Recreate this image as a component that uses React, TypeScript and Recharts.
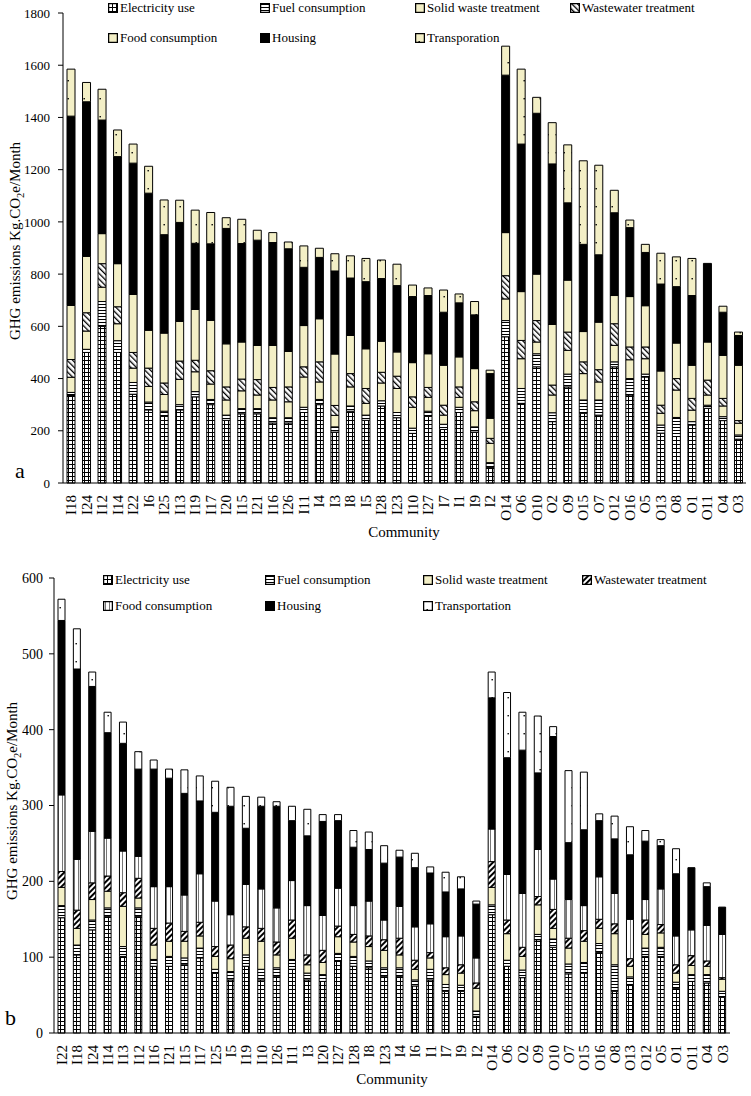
import { BarChart, Bar, XAxis, YAxis } from 'recharts';

const SERIF = "'Liberation Serif', 'Times New Roman', serif";

// ---- chart a ----
const categoriesA = ['I18', 'I24', 'I12', 'I14', 'I22', 'I6', 'I25', 'I13', 'I19', 'I17', 'I20', 'I15', 'I21', 'I16', 'I26', 'I11', 'I4', 'I3', 'I8', 'I5', 'I28', 'I23', 'I10', 'I27', 'I7', 'I1', 'I9', 'I2', 'O14', 'O6', 'O10', 'O2', 'O9', 'O15', 'O7', 'O12', 'O16', 'O5', 'O13', 'O8', 'O1', 'O11', 'O4', 'O3'];
const elecA = [335, 500, 600, 500, 340, 280, 255, 280, 330, 300, 240, 265, 265, 230, 230, 270, 300, 195, 275, 240, 295, 250, 190, 255, 205, 270, 195, 60, 560, 305, 445, 235, 368, 267, 260, 445, 337, 406, 191, 178, 222, 286, 239, 168];
const fuelA = [12, 12, 95, 45, 45, 30, 20, 20, 20, 20, 20, 20, 20, 20, 20, 20, 20, 20, 20, 20, 20, 20, 20, 20, 20, 20, 20, 18, 62, 57, 50, 34, 49, 51, 58, 19, 63, 11, 31, 73, 13, 12, 15, 16];
const solidA = [58, 70, 55, 65, 55, 60, 64, 97, 76, 59, 58, 68, 52, 68, 61, 116, 67, 44, 73, 45, 68, 92, 80, 53, 35, 38, 62, 74, 83, 114, 45, 68, 91, 101, 69, 63, 72, 59, 45, 105, 44, 39, 41, 45];
const wasteA = [68, 70, 90, 65, 60, 70, 44, 70, 44, 51, 50, 45, 59, 48, 57, 39, 77, 38, 51, 57, 41, 47, 40, 38, 38, 40, 34, 19, 89, 70, 82, 38, 70, 45, 47, 83, 49, 45, 31, 44, 45, 57, 29, 10];
const foodA = [207, 216, 115, 165, 222, 145, 191, 152, 195, 193, 165, 142, 131, 161, 136, 158, 165, 197, 146, 152, 119, 93, 131, 129, 153, 115, 127, 77, 165, 187, 178, 232, 199, 116, 182, 108, 193, 158, 131, 136, 127, 146, 165, 212];
const housingA = [725, 592, 435, 410, 503, 525, 377, 379, 253, 293, 442, 377, 403, 394, 393, 223, 235, 318, 220, 257, 240, 254, 253, 223, 203, 207, 206, 171, 603, 565, 616, 615, 296, 334, 258, 317, 264, 204, 333, 216, 267, 301, 165, 114];
const transA = [180, 74, 118, 102, 73, 103, 133, 85, 127, 120, 41, 93, 38, 38, 26, 82, 35, 66, 85, 89, 71, 82, 44, 29, 85, 34, 51, 13, 111, 287, 61, 158, 222, 320, 343, 86, 29, 31, 118, 114, 142, 0, 23, 13];
const ticksA = [0, 200, 400, 600, 800, 1000, 1200, 1400, 1600, 1800];

// ---- chart b ----
const categoriesB = ['I22', 'I18', 'I24', 'I14', 'I13', 'I12', 'I16', 'I21', 'I15', 'I17', 'I25', 'I5', 'I19', 'I10', 'I26', 'I11', 'I3', 'I20', 'I27', 'I28', 'I8', 'I23', 'I4', 'I6', 'I1', 'I7', 'I9', 'I2', 'O14', 'O6', 'O2', 'O9', 'O10', 'O7', 'O15', 'O16', 'O8', 'O13', 'O12', 'O5', 'O1', 'O11', 'O4', 'O3'];
const elecB = [152, 103, 136, 154, 101, 154, 88, 88, 90, 99, 79, 70, 88, 70, 75, 84, 70, 68, 95, 88, 86, 75, 75, 62, 70, 55, 55, 22, 156, 88, 73, 123, 113, 78, 79, 106, 55, 64, 101, 101, 59, 68, 66, 47];
const fuelB = [16, 13, 13, 11, 13, 11, 9, 13, 9, 13, 5, 11, 15, 14, 11, 13, 9, 9, 10, 13, 9, 11, 11, 8, 14, 9, 8, 7, 13, 8, 10, 7, 11, 13, 14, 12, 35, 10, 11, 12, 8, 9, 11, 8];
const solidB = [24, 22, 27, 22, 53, 13, 19, 20, 22, 16, 17, 17, 22, 37, 17, 28, 11, 16, 22, 19, 19, 23, 17, 14, 15, 13, 16, 30, 23, 35, 18, 39, 14, 21, 28, 20, 41, 14, 18, 19, 12, 12, 11, 16];
const wasteB = [21, 24, 22, 20, 18, 26, 22, 24, 13, 18, 13, 18, 15, 17, 17, 24, 13, 16, 14, 10, 14, 14, 22, 12, 7, 9, 11, 7, 34, 18, 12, 11, 25, 13, 14, 12, 13, 10, 19, 11, 11, 13, 7, 2];
const foodB = [101, 67, 68, 50, 55, 29, 55, 48, 48, 64, 60, 40, 56, 52, 45, 52, 65, 46, 50, 38, 46, 26, 42, 44, 38, 41, 38, 33, 43, 60, 71, 62, 40, 51, 33, 56, 40, 52, 27, 47, 38, 34, 47, 57];
const housingB = [230, 251, 191, 139, 142, 115, 155, 143, 134, 96, 117, 143, 74, 109, 134, 79, 92, 124, 89, 77, 68, 75, 65, 78, 67, 59, 62, 71, 173, 154, 189, 101, 188, 75, 100, 74, 72, 85, 77, 57, 82, 82, 51, 36];
const transB = [28, 53, 19, 27, 28, 23, 12, 12, 31, 33, 41, 25, 42, 12, 6, 19, 35, 9, 8, 22, 23, 23, 9, 19, 8, 26, 16, 4, 34, 86, 50, 75, 13, 95, 76, 9, 30, 37, 14, 8, 33, 0, 5, 0];
const ticksB = [0, 100, 200, 300, 400, 500, 600];

const seriesKeys = ['elec', 'fuel', 'solid', 'waste', 'food', 'housing', 'trans'];

function buildRows(cats: string[], cols: number[][]) {
  return cats.map((name, i) => {
    const row: any = { name };
    seriesKeys.forEach((k, j) => { row[k] = cols[j][i]; });
    return row;
  });
}

const dataA = buildRows(categoriesA, [elecA, fuelA, solidA, wasteA, foodA, housingA, transA]);
const dataB = buildRows(categoriesB, [elecB, fuelB, solidB, wasteB, foodB, housingB, transB]);

const BEIGE = '#F3EFC6';

// pattern fills, one set per id prefix
function Patterns({ p, variant }: { p: string; variant: 'a' | 'b' }) {
  return (
    <defs>
      <pattern id={`${p}elec`} width="4" height="4" patternUnits="userSpaceOnUse">
        <rect width="4" height="4" fill="#000" />
        <rect x="1" y="1" width="3" height="3" fill="#fff" />
      </pattern>
      <pattern id={`${p}fuel`} width="4" height="3" patternUnits="userSpaceOnUse">
        <rect width="4" height="3" fill="#fff" />
        <rect y="1" width="4" height="1" fill="#000" />
      </pattern>
      <pattern id={`${p}waste`} width="4" height="4" patternUnits="userSpaceOnUse" patternTransform={variant === 'a' ? 'rotate(-45)' : 'rotate(45)'}>
        <rect width="4" height="4" fill="#fff" />
        <rect width={variant === 'a' ? 1.3 : 2} height="4" fill="#000" />
      </pattern>
      <pattern id={`${p}food`} width="4" height="4" patternUnits="userSpaceOnUse">
        <rect width="4" height="4" fill={variant === 'a' ? BEIGE : '#fff'} />
        {variant === 'b' && <rect x="2" width="0.8" height="4" fill="#555" />}
      </pattern>
      <pattern id={`${p}trans`} width="8" height="18" patternUnits="userSpaceOnUse">
        <rect width="8" height="18" fill={variant === 'a' ? BEIGE : '#fff'} />
        <rect x="3.5" y="8" width="1.4" height="1.4" fill="#000" />
      </pattern>
    </defs>
  );
}

const fills = (p: string) => ({
  elec: `url(#${p}elec)`,
  fuel: `url(#${p}fuel)`,
  solid: BEIGE,
  waste: `url(#${p}waste)`,
  food: `url(#${p}food)`,
  housing: '#000',
  trans: `url(#${p}trans)`,
});

const VTick = (props: any) => {
  const { x, y, payload, fs } = props;
  return (
    <text x={x} y={y} transform={`rotate(-90 ${x} ${y})`} textAnchor="end" dy="0.35em"
      fontSize={fs} fontFamily={SERIF} fill="#000">
      {payload.value}
    </text>
  );
};

function LegendItem({ x, y, label, fillKey, p, variant }: any) {
  const f: any = fills(p);
  return (
    <div style={{ position: 'absolute', left: x, top: y - 8, height: 16, display: 'flex', alignItems: 'center', fontFamily: SERIF, fontSize: 13, whiteSpace: 'nowrap' }}>
      <svg width="10" height="10" style={{ marginRight: 2 }}>
        <Patterns p={p} variant={variant} />
        <rect x="0.5" y="0.5" width="9" height="9" fill={f[fillKey]} stroke="#000" strokeWidth="1.5" />
      </svg>
      {label}
    </div>
  );
}

function Chart({ data, p, variant, ticks, max, width, height, margin, yWidth, barSize, tickSize, tickMargin, yFont }: any) {
  const f: any = fills(p);
  return (
    <BarChart width={width} height={height} data={data} margin={margin} barCategoryGap={0}>
      <Patterns p={p} variant={variant} />
      <XAxis dataKey="name" interval={0} height={40} tickLine={false} tickMargin={6}
        axisLine={{ stroke: '#000' }} tick={<VTick fs={15} />} />
      <YAxis width={yWidth} domain={[0, max]} ticks={ticks} interval={0}
        axisLine={{ stroke: '#000' }} tickLine={{ stroke: '#000' }} tickSize={tickSize} tickMargin={tickMargin}
        tick={{ fill: '#000', fontSize: yFont, fontFamily: SERIF }} />
      {seriesKeys.map((k) => (
        <Bar key={k} dataKey={k} stackId="s" fill={f[k]} stroke="#000" strokeWidth={1}
          barSize={barSize} isAnimationActive={false} />
      ))}
    </BarChart>
  );
}

const YTitle = ({ cx, cy, size }: any) => (
  <div style={{ position: 'absolute', left: cx - 200, top: cy - 10, width: 400, height: 20, textAlign: 'center', transform: 'rotate(-90deg)', fontFamily: SERIF, fontSize: size, lineHeight: '20px', whiteSpace: 'nowrap' }}>
    GHG emissions Kg.CO<sub style={{ fontSize: size * 0.7 }}>2</sub>e/Month
  </div>
);

export default function App() {
  return (
    <div style={{ position: 'absolute', left: 0, top: 0, width: 751, height: 1096, background: '#fff' }}>
      {/* chart a */}
      <div style={{ position: 'absolute', left: 0, top: 0 }}>
        <Chart data={dataA} p="pa" variant="a" ticks={ticksA} max={1800} width={751} height={545}
          margin={{ top: 13, right: 5, bottom: 22, left: 0 }} yWidth={63} barSize={8}
          tickSize={5} tickMargin={8} yFont={13} />
      </div>
      <YTitle cx={15} cy={241} size={15} />
      <div style={{ position: 'absolute', left: 15, top: 458, fontFamily: SERIF, fontSize: 22 }}>a</div>
      <div style={{ position: 'absolute', left: 304, width: 200, top: 524, textAlign: 'center', fontFamily: SERIF, fontSize: 15 }}>Community</div>
      <LegendItem x={108} y={8} label="Electricity use" fillKey="elec" p="la" variant="a" />
      <LegendItem x={260} y={8} label="Fuel consumption" fillKey="fuel" p="la" variant="a" />
      <LegendItem x={415} y={8} label="Solid waste treatment" fillKey="solid" p="la" variant="a" />
      <LegendItem x={570} y={8} label="Wastewater treatment" fillKey="waste" p="la" variant="a" />
      <LegendItem x={108} y={38} label="Food consumption" fillKey="food" p="la" variant="a" />
      <LegendItem x={260} y={38} label="Housing" fillKey="housing" p="la" variant="a" />
      <LegendItem x={415} y={38} label="Transporation" fillKey="trans" p="la" variant="a" />

      {/* chart b */}
      <div style={{ position: 'absolute', left: 0, top: 545 }}>
        <Chart data={dataB} p="pb" variant="b" ticks={ticksB} max={600} width={751} height={551}
          margin={{ top: 33, right: 21, bottom: 23, left: 0 }} yWidth={54} barSize={7}
          tickSize={5} tickMargin={6} yFont={14} />
      </div>
      <YTitle cx={12} cy={801} size={15} />
      <div style={{ position: 'absolute', left: 5, top: 1005, fontFamily: SERIF, fontSize: 22 }}>b</div>
      <div style={{ position: 'absolute', left: 292, width: 200, top: 1071, textAlign: 'center', fontFamily: SERIF, fontSize: 15 }}>Community</div>
      <LegendItem x={103} y={580} label="Electricity use" fillKey="elec" p="lb" variant="b" />
      <LegendItem x={265} y={580} label="Fuel consumption" fillKey="fuel" p="lb" variant="b" />
      <LegendItem x={423} y={580} label="Solid waste treatment" fillKey="solid" p="lb" variant="b" />
      <LegendItem x={582} y={580} label="Wastewater treatment" fillKey="waste" p="lb" variant="b" />
      <LegendItem x={103} y={606} label="Food consumption" fillKey="food" p="lb" variant="b" />
      <LegendItem x={265} y={606} label="Housing" fillKey="housing" p="lb" variant="b" />
      <LegendItem x={423} y={606} label="Transportation" fillKey="trans" p="lb" variant="b" />
    </div>
  );
}
